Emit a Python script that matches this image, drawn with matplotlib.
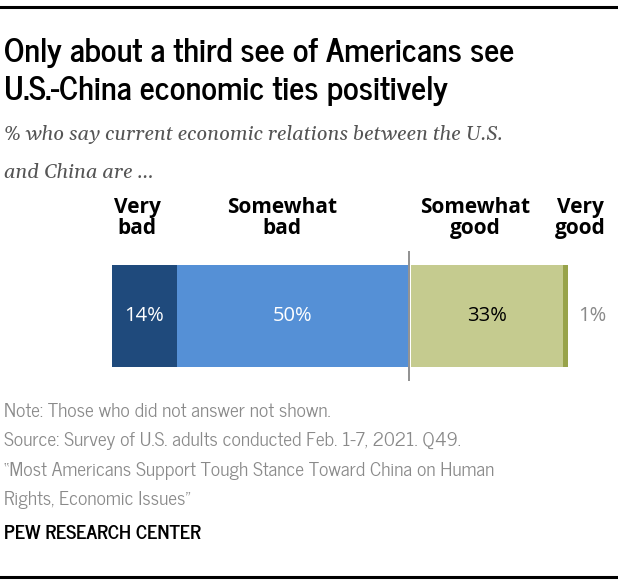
import matplotlib.pyplot as plt

# Data
categories = ["Very\nbad", "Somewhat\nbad", "Somewhat\ngood", "Very\ngood"]
values = [14, 50, 33, 1]
colors = ["#1f4a7c", "#5590d6", "#c5cb8f", "#98a34a"]
value_labels = ["14%", "50%", "33%", "1%"]

W, H = 618, 586
fig = plt.figure(figsize=(W / 100, H / 100), dpi=100)

cond = ["News Cycle", "DejaVu Sans"]
sans = ["Open Sans", "DejaVu Sans"]
serif = ["Gelasio", "DejaVu Serif"]


def px(x, y):
    return x / W, 1 - y / H


# rules top and bottom
fig.add_artist(plt.Line2D([0, 1], [1 - 7 / H, 1 - 7 / H], color="black", lw=2.2))
fig.add_artist(plt.Line2D([0, 1], [1 - 577 / H, 1 - 577 / H], color="black", lw=2.2))

# title / subtitle
fig.text(*px(4, 62), "Only about a third see of Americans see", family=cond,
         weight="bold", fontsize=23.5, va="baseline")
fig.text(*px(4, 100), "U.S.-China economic ties positively", family=cond,
         weight="bold", fontsize=23.5, va="baseline")
fig.text(*px(4, 140), "% who say current economic relations between the U.S.",
         family=serif, style="italic", fontsize=14.5, color="#555555", va="baseline")
fig.text(*px(4, 178), "and China are ...", family=serif, style="italic",
         fontsize=14.5, color="#555555", va="baseline")

# bar
gap = 0.5
ax = fig.add_axes([112 / W, 1 - 381 / H, 456 / W, 130 / H])
left = 0
for i, (v, c) in enumerate(zip(values, colors)):
    if i == 2:
        left += gap
    ax.barh(0.5, v, left=left, height=0.785, color=c)
    if i < 3:
        ax.text(left + v / 2, 0.5, value_labels[i], ha="center", va="center",
                family=sans, fontsize=14.5, color="white" if i < 2 else "black")
    else:
        ax.text(left + v + 2.2, 0.5, value_labels[i], ha="left", va="center",
                family=sans, fontsize=14.5, color="#8a8a8a")
    left += v
divider = values[0] + values[1] + gap / 2
ax.axvline(divider, color="#888888", lw=1.3, ymin=0, ymax=1)
ax.set_xlim(0, sum(values) + gap)
ax.set_ylim(0, 1)
ax.axis("off")

# category labels
label_x = [137, 282, 475, 580]
for lx, cat in zip(label_x, categories):
    fig.text(*px(lx, 218), cat, ha="center", va="center", family=sans,
             weight="bold", fontsize=15, linespacing=0.95)

# footer
notes = ["Note: Those who did not answer not shown.",
         "Source: Survey of U.S. adults conducted Feb. 1-7, 2021. Q49.",
         "\u201cMost Americans Support Tough Stance Toward China on Human",
         "Rights, Economic Issues\u201d"]
for i, n in enumerate(notes):
    fig.text(*px(4, 417 + 29.3 * i), n, family=cond, fontsize=14,
             color="#8a8a8a", va="baseline")
fig.text(*px(4, 539), "PEW RESEARCH CENTER", family=cond, weight="bold",
         fontsize=14, va="baseline")

fig.savefig("out.png", dpi=100)
